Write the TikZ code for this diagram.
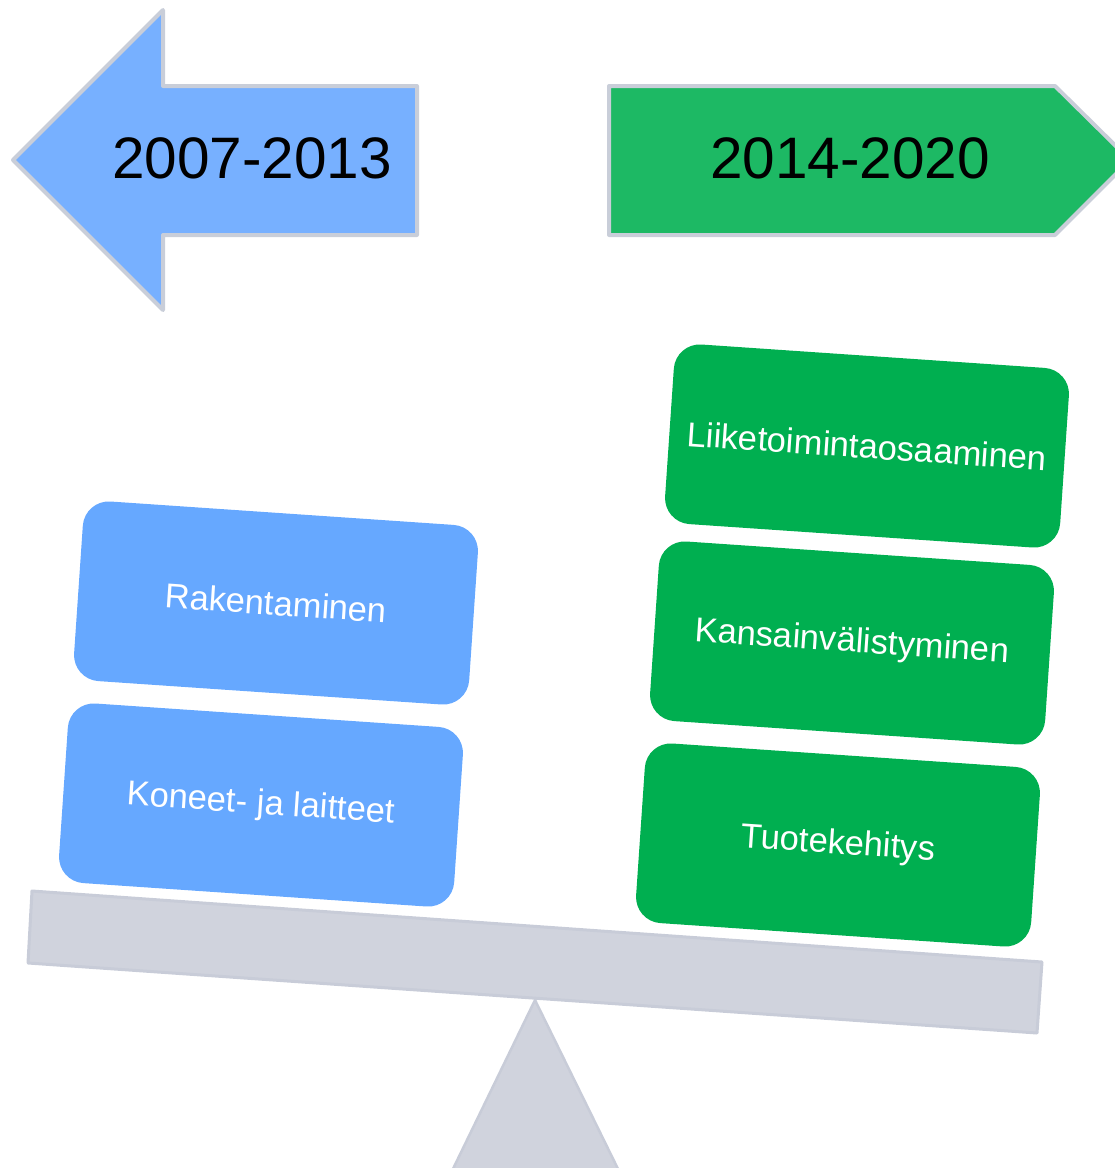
\documentclass[tikz,border=0pt]{standalone}
\usepackage{fontspec}
\setmainfont{Liberation Sans}
\begin{document}
\begin{tikzpicture}[x=1pt,y=-1pt,
  framed/.style={draw=arrowrim, line width=4pt, line join=round},
  blueitem/.style={fill=boxblue, rounded corners=26pt, minimum width=396pt, minimum height=180pt, rotate=-3.9, text=white, font=\fontsize{34.5}{41}\selectfont, inner sep=0pt},
  greenitem/.style={blueitem, fill=boxgreen},
  yearlabel/.style={font=\fontsize{58.5}{70}\selectfont, text=black, inner sep=0pt}]
\definecolor{arrowrim}{HTML}{C9CED9}
\definecolor{arrowblue}{HTML}{77B0FF}
\definecolor{arrowgreen}{HTML}{1DB964}
\definecolor{boxblue}{HTML}{66A8FF}
\definecolor{boxgreen}{HTML}{00AF50}
\definecolor{beamfill}{HTML}{D0D3DD}
\definecolor{beamrim}{HTML}{C8CCD8}
\useasboundingbox (0,0) rectangle (1115,1168);
\clip (0,0) rectangle (1115,1168);
% arrows
\draw[framed, fill=arrowblue] (13,160) -- (163,10) -- (163,86) -- (417,86) -- (417,235) -- (163,235) -- (163,310) -- cycle;
\draw[framed, fill=arrowgreen] (609,86) -- (1055,86) -- (1130,160) -- (1055,235) -- (609,235) -- cycle;
\node[yearlabel] (y1) at (252,158) {2007-2013};
\node[yearlabel] (y2) at (850,158) {2014-2020};
% seesaw
\draw[fill=beamfill, draw=beamrim, line width=2.5pt, line join=round] (450,1175) -- (535,1000) -- (621,1175) -- cycle;
\draw[fill=beamfill, draw=beamrim, line width=3pt, line join=round] (32,891) -- (1042,962) -- (1037,1033) -- (28,963) -- cycle;
% items
\node[blueitem] (rak) at (276,603) {Rakentaminen};
\node[blueitem] (kon) at (261,805) {Koneet- ja laitteet};
\node[greenitem] (lii) at (867,446) {Liiketoimintaosaaminen};
\node[greenitem] (kan) at (852,643) {Kansainvälistyminen};
\node[greenitem] (tuo) at (838,845) {Tuotekehitys};
\end{tikzpicture}
\end{document}
